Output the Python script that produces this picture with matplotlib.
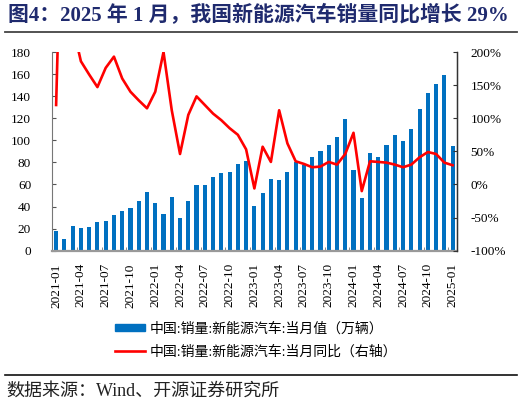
import numpy as np
import matplotlib
matplotlib.use("Agg")
import matplotlib.pyplot as plt
from matplotlib.lines import Line2D
from matplotlib.patches import Patch
from matplotlib.ticker import MultipleLocator, FuncFormatter, FixedLocator

plt.rcParams['font.family'] = ['Liberation Serif', 'Noto Sans CJK SC', 'DejaVu Sans']

# 月份 2021-01 ... 2025-01
months = [f"{y}-{m:02d}" for y in range(2021, 2025) for m in range(1, 13)] + ["2025-01"]

# 当月销量（万辆）
sales = [17.9, 11.0, 22.6, 20.6, 21.7, 25.6, 27.1, 32.1, 35.7, 38.3, 45.0, 53.1,
         43.1, 33.4, 48.4, 29.9, 44.7, 59.6, 59.3, 66.6, 70.8, 71.4, 78.6, 81.4,
         40.8, 52.5, 65.3, 63.6, 71.7, 80.6, 78.0, 84.6, 90.4, 95.6, 102.6, 119.1,
         72.9, 47.7, 88.3, 85.0, 95.5, 104.9, 99.1, 110.0, 128.7, 143.0, 151.2, 159.6,
         94.4]

# 当月同比（%）
yoy = [120, 585, 240, 186, 166, 147, 176, 193, 160, 140, 127, 115,
       140, 200, 112, 46, 105, 133, 120, 107, 97, 85, 75, 53,
       -6, 57, 34, 112, 62, 35, 31, 26, 27, 34, 30, 46,
       78, -10, 35, 34, 33, 30, 26, 30, 41, 49, 46, 33,
       29]

x = np.arange(len(months))

fig = plt.figure(figsize=(5.22, 4.05), dpi=100)
ax = fig.add_axes([0.0996, 0.381, 0.7754, 0.4906])
ax2 = ax.twinx()

ax.bar(x, sales, width=0.5, color='#0070C0', zorder=2)
ax2.plot(x, yoy, color='#FF0000', lw=1.9, zorder=3)

ax.set_xlim(-0.5, len(months) - 0.5)
ax.set_ylim(0, 180)
ax.yaxis.set_major_locator(MultipleLocator(20))
ax2.set_ylim(-100, 200)
ax2.yaxis.set_major_locator(MultipleLocator(50))
ax2.yaxis.set_major_formatter(FuncFormatter(lambda v, p: f"{v:.0f}%"))

ax.set_xticks(x[::3])
ax.set_xticklabels(months[::3], rotation=90)
ax.xaxis.set_minor_locator(FixedLocator(np.arange(-0.5, len(months), 3)))
ax.tick_params(axis='x', which='major', length=0, pad=9, labelsize=9.5)
ax.tick_params(axis='x', which='minor', length=3, direction='in', color='#777777')
ax.tick_params(axis='y', direction='in', length=3, labelsize=9.5, pad=15, color='#555555')
ax2.tick_params(axis='y', direction='in', length=3, labelsize=9.5, pad=10, color='#333333')

for a in (ax, ax2):
    a.spines['top'].set_visible(False)
ax.spines['left'].set_color('#777777')
ax.spines['bottom'].set_color('#999999')
ax.spines['bottom'].set_linewidth(1.6)
ax2.spines['left'].set_visible(False)
ax2.spines['bottom'].set_visible(False)
ax2.spines['right'].set_color('#333333')
ax2.spines['right'].set_linewidth(1.0)

handles = [Patch(color='#0070C0'), Line2D([], [], color='#FF0000', lw=1.9)]
labels = ['中国:销量:新能源汽车:当月值（万辆）', '中国:销量:新能源汽车:当月同比（右轴）']
fig.legend(handles, labels, loc='center', bbox_to_anchor=(0.49, 0.16),
           frameon=False, fontsize=10, handlelength=2.2, handleheight=0.45,
           handletextpad=0.3, labelspacing=0.7)

fig.text(0.015, 0.962, '图4：2025 年 1 月，我国新能源汽车销量同比增长 29%',
         fontsize=15, fontweight='bold', color='#1F2A6E', va='center', ha='left')
fig.add_artist(Line2D([0.01, 0.99], [1 - 31.7 / 405] * 2, color='#444444', lw=1.3))
fig.add_artist(Line2D([0.01, 0.99], [1 - 375 / 405] * 2, color='#111111', lw=1.2))
fig.text(0.013, 1 - 391.5 / 405, '数据来源：Wind、开源证券研究所',
         fontsize=13, color='#222222', va='center', ha='left')

fig.savefig('out.png', dpi=100)
